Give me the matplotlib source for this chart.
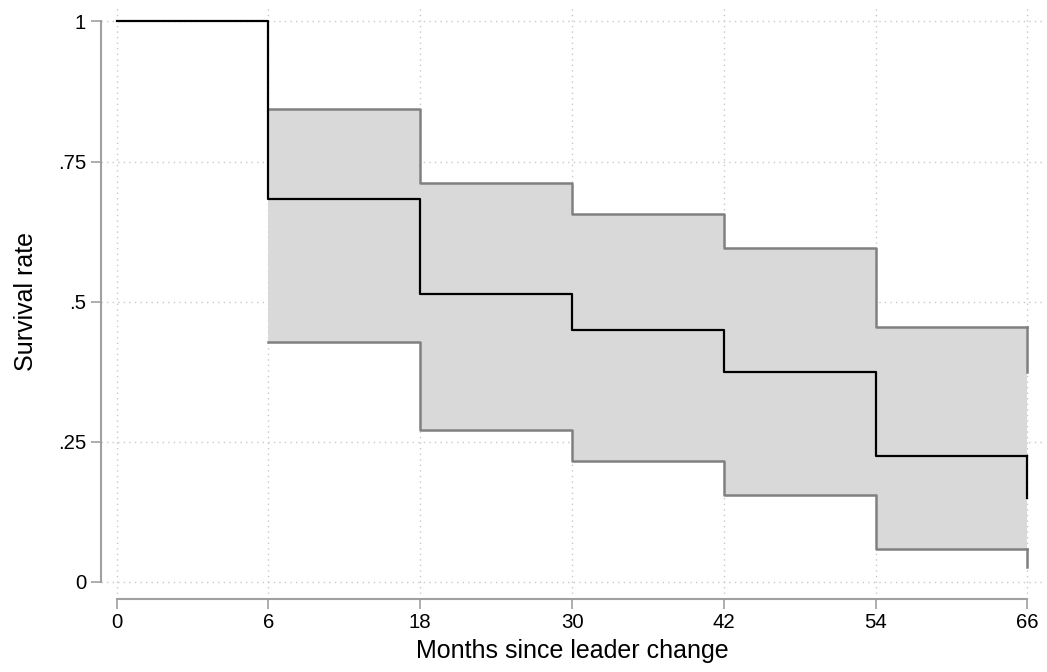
import matplotlib
matplotlib.use('Agg')
import matplotlib.pyplot as plt
import numpy as np

plt.rcParams['font.family'] = ['Liberation Sans', 'DejaVu Sans']

# interval boundaries (months) and life-table estimates
months = ['0', '6', '18', '30', '42', '54', '66']
survival = [1.0, 0.684, 0.514, 0.449, 0.374, 0.224, 0.150]
ci_upper = [0.844, 0.711, 0.657, 0.596, 0.454, 0.374]
ci_lower = [0.428, 0.271, 0.216, 0.155, 0.059, 0.026]

pos = np.arange(len(months))

fig = plt.figure(figsize=(10.47, 6.72), dpi=100)
ax = fig.add_axes([0.0962, 0.109, 0.901, 0.8836])

gridc = '#c8c8c8'
ax.grid(True, color=gridc, linestyle=(0, (1, 3)), linewidth=1.0)
ax.set_axisbelow(True)

# confidence band, from first drop onwards (last value only as end drop)
band_lo = ci_lower[:-1] + [ci_lower[-2]]
band_hi = ci_upper[:-1] + [ci_upper[-2]]
ax.fill_between(pos[1:], band_lo, band_hi, step='post', color='#d9d9d9', lw=0, zorder=2)

# CI lines: steps, last value drawn as vertical drop at end
ax.step(pos[1:], [ci_upper[0]] + ci_upper[:-1], where='pre', color='#808080', lw=1.8, zorder=3)
ax.step(pos[1:], [ci_lower[0]] + ci_lower[:-1], where='pre', color='#808080', lw=1.8, zorder=3)
ax.plot([pos[-1], pos[-1]], [ci_upper[-2], ci_upper[-1]], color='#808080', lw=1.8, zorder=3)
ax.plot([pos[-1], pos[-1]], [ci_lower[-2], ci_lower[-1]], color='#808080', lw=1.8, zorder=3)

# survival estimate
ax.step(pos, [survival[0]] + survival[:-1], where='pre', color='black', lw=1.6, zorder=4)
ax.plot([pos[-1], pos[-1]], [survival[-2], survival[-1]], color='black', lw=1.6, zorder=4)

ax.set_xlim(-0.105, 6.11)
ax.set_ylim(-0.030, 1.0294)

ax.set_xticks(pos)
ax.set_xticklabels(months)
ax.set_yticks([0, 0.25, 0.5, 0.75, 1])
ax.set_yticklabels(['0', '.25', '.5', '.75', '1'])

for s in ['top', 'right']:
    ax.spines[s].set_visible(False)
for s in ['left', 'bottom']:
    ax.spines[s].set_color('#a0a0a0')
    ax.spines[s].set_linewidth(1.5)
ax.spines['left'].set_bounds(0, 1)
ax.spines['bottom'].set_bounds(0, 6)

ax.tick_params(axis='both', direction='out', length=7, width=1.2, color='#a0a0a0',
               labelsize=14.7, pad=3.5)

ax.set_xlabel('Months since leader change', fontsize=18, labelpad=5)
ax.set_ylabel('Survival rate', fontsize=18, labelpad=14)

fig.savefig('out.png', dpi=100)
